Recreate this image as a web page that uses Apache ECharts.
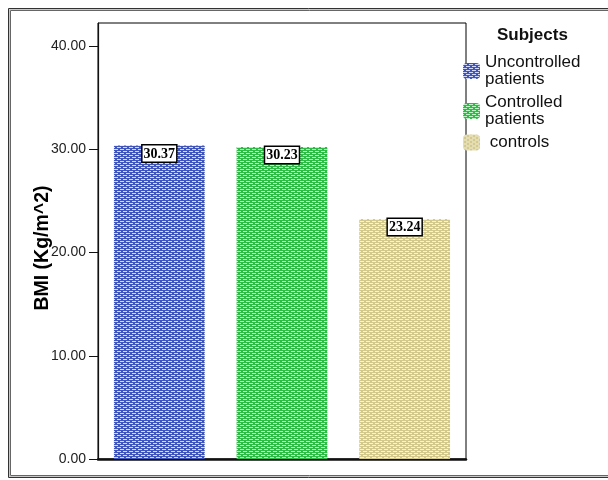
<!DOCTYPE html>
<html>
<head>
<meta charset="utf-8">
<script src="https://cdn.jsdelivr.net/npm/echarts@6/dist/echarts.min.js"></script>
<style>
  html, body { margin: 0; padding: 0; background: #fff; }
  #chart { width: 608px; height: 480px; }
</style>
</head>
<body>
<div id="chart"></div>
<script>
// Mean BMI per subject group
const subjects = ['Uncontrolled\npatients', 'Controlled\npatients', ' controls'];
const bmi = [30.37, 30.23, 23.24];
const yTicks = [0, 10, 20, 30, 40];

// Woven fill: coloured base with rows of light dashes, alternating offset
function weave(base, dash) {
  const c = document.createElement('canvas');
  c.width = 6; c.height = 4;
  const g = c.getContext('2d');
  g.fillStyle = base;
  g.fillRect(0, 0, 6, 4);
  g.fillStyle = dash;
  g.fillRect(0, 1, 4, 1);
  g.fillRect(3, 3, 3, 1);
  g.fillRect(0, 3, 1, 1);
  return { image: c, repeat: 'repeat' };
}

const fills = [
  weave('#3f55bb', '#d4daf4'),
  weave('#2fbc46', '#c2f0c8'),
  weave('#d3c98c', '#f6f2dc')
];

const chart = echarts.init(document.getElementById('chart'), null, { renderer: 'canvas' });

const series = subjects.map((name, i) => ({
  name: name,
  type: 'bar',
  data: bmi.map((v, j) => (j === i ? v : '-')),
  barWidth: '74%',
  barGap: '-100%',
  itemStyle: { color: fills[i] },
  label: {
    show: true,
    position: 'insideTop',
    distance: 0,
    formatter: p => p.value.toFixed(2),
    fontFamily: 'Liberation Serif',
    fontWeight: 'bold',
    fontSize: 14,
    color: '#000',
    backgroundColor: '#fff',
    borderColor: '#000',
    borderWidth: 1.5,
    padding: [1, 1, 0, 1],
    lineHeight: 15
  }
}));

chart.setOption({
  animation: false,
  backgroundColor: '#fff',
  textStyle: { fontFamily: 'Liberation Sans' },
  title: {
    text: 'Subjects',
    left: 497,
    top: 27,
    padding: 0,
    textStyle: { fontSize: 17, fontWeight: 'bold', color: '#111', fontFamily: 'Liberation Sans' }
  },
  legend: {
    orient: 'vertical',
    left: 463,
    top: 54,
    padding: 0,
    itemGap: 6,
    itemWidth: 17,
    itemHeight: 16,
    selectedMode: false,
    data: subjects,
    textStyle: { fontSize: 17, lineHeight: 17, color: '#111', fontFamily: 'Liberation Sans' }
  },
  grid: {
    left: 98, top: 23, right: 142, bottom: 21,
    show: true, borderColor: '#000', borderWidth: 1,
    containLabel: false
  },
  xAxis: {
    type: 'category',
    data: subjects,
    axisLine: { show: true, lineStyle: { color: '#111', width: 2.5 } },
    axisTick: { show: false },
    axisLabel: { show: false },
    splitLine: { show: false }
  },
  yAxis: {
    type: 'value',
    min: 0,
    max: 42.23,
    interval: 10,
    name: 'BMI (Kg/m^2)',
    nameLocation: 'middle',
    nameRotate: 90,
    nameGap: 45,
    nameMoveOverlap: false,
    nameTextStyle: { fontSize: 19.5, fontWeight: 'bold', color: '#000', fontFamily: 'Liberation Sans', padding: [0, 14, 0, 0] },
    axisLine: { show: true, lineStyle: { color: '#111', width: 1.2 } },
    axisTick: { show: true, length: 9, lineStyle: { color: '#111' }, customValues: yTicks },
    axisLabel: {
      customValues: yTicks,
      formatter: v => v.toFixed(2),
      fontSize: 14,
      color: '#222',
      margin: 12
    },
    splitLine: { show: false }
  },
  graphic: [
    { type: 'rect', silent: true, shape: { x: 8.5, y: 8.5, width: 640, height: 469 }, style: { fill: null, stroke: '#333', lineWidth: 1 } },
    { type: 'rect', silent: true, shape: { x: 9.5, y: 9.5, width: 640, height: 467 }, style: { fill: null, stroke: '#c8c8c8', lineWidth: 1 } },
    { type: 'rect', silent: true, shape: { x: 10.5, y: 10.5, width: 640, height: 465 }, style: { fill: null, stroke: '#666', lineWidth: 1 } }
  ],
  series: series
});
</script>
</body>
</html>
